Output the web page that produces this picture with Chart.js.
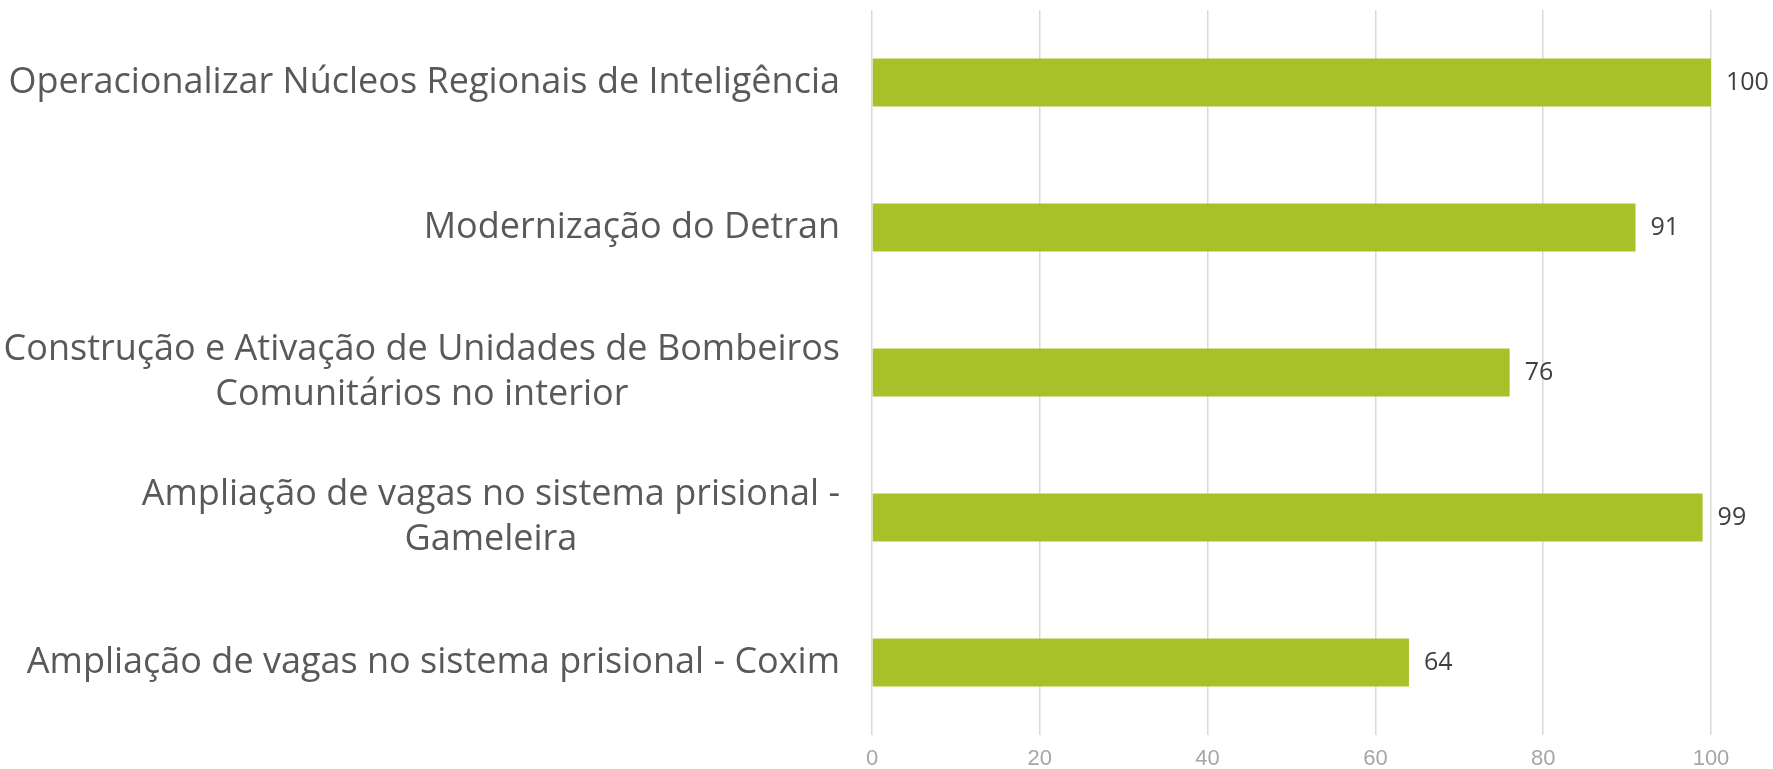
<!DOCTYPE html>
<html>
<head>
<meta charset="utf-8">
<script src="https://cdn.jsdelivr.net/npm/chart.js@4/dist/chart.umd.min.js"></script>
<style>
  html, body { margin: 0; padding: 0; background: #ffffff; }
  #wrap { width: 1773px; height: 769px; }
</style>
</head>
<body>
<div id="wrap"><canvas id="barChart" width="1773" height="769"></canvas></div>
<script>
// chart data
const categories = [
    ["Operacionalizar Núcleos Regionais de Inteligência"],
    ["Modernização do Detran"],
    ["Construção e Ativação de Unidades de Bombeiros", "Comunitários no interior"],
    ["Ampliação de vagas no sistema prisional -", "Gameleira"],
    ["Ampliação de vagas no sistema prisional - Coxim"]
];
const values = [100, 91, 76, 99, 64];
const xTicks = [0, 20, 40, 60, 80, 100];

/* ===============================
   Category labels (centered blocks)
   =============================== */
const categoryLabels = {
    id: "categoryLabels",
    afterDraw(chart) {
        const ctx = chart.ctx;
        const yScale = chart.scales.y;
        const right = chart.chartArea.left - 32;
        ctx.save();
        ctx.font = "36px 'Open Sans'";
        ctx.fillStyle = "#595959";
        ctx.textAlign = "center";
        ctx.textBaseline = "middle";
        chart.data.labels.forEach((lines, i) => {
            const cy = yScale.getPixelForTick(i);
            const w = Math.max(...lines.map(t => ctx.measureText(t).width));
            const cx = right - w / 2;
            lines.forEach((t, k) => {
                ctx.fillText(t, cx, cy + (k - (lines.length - 1) / 2) * 45);
            });
        });
        ctx.restore();
    }
};

/* ===============================
   Value labels at bar ends
   =============================== */
const valueLabels = {
    id: "valueLabels",
    afterDatasetsDraw(chart) {
        const ctx = chart.ctx;
        const meta = chart.getDatasetMeta(0);
        ctx.save();
        ctx.font = "25px 'Open Sans'";
        ctx.fillStyle = "#404040";
        ctx.textAlign = "left";
        ctx.textBaseline = "middle";
        meta.data.forEach((bar, i) => {
            ctx.fillText(String(chart.data.datasets[0].data[i]), bar.x + 15, bar.y);
        });
        ctx.restore();
    }
};

new Chart(document.getElementById("barChart"), {
    type: "bar",
    data: {
        labels: categories,
        datasets: [{
            data: values,
            backgroundColor: "#a9c129",
            borderWidth: 0,
            barPercentage: 0.33,
            categoryPercentage: 1
        }]
    },
    options: {
        indexAxis: "y",
        responsive: false,
        animation: false,
        layout: { padding: { top: 10, right: 62, bottom: 0, left: 0 } },
        plugins: {
            legend: { display: false },
            tooltip: { enabled: false }
        },
        scales: {
            x: {
                min: xTicks[0],
                max: xTicks[xTicks.length - 1],
                afterBuildTicks: scale => {
                    scale.ticks = xTicks.map(v => ({ value: v }));
                },
                afterFit: scale => { scale.height = 34; },
                grid: { color: "#d9d9d9", lineWidth: 1.5, drawTicks: false },
                border: { display: false },
                ticks: {
                    padding: 11,
                    color: "#a6a6a6",
                    font: { family: "'Liberation Sans', Arial", size: 22 }
                }
            },
            y: {
                afterFit: scale => { scale.width = 872; },
                grid: { display: false },
                border: { display: false },
                ticks: { display: false }
            }
        }
    },
    plugins: [categoryLabels, valueLabels]
});
</script>
</body>
</html>
